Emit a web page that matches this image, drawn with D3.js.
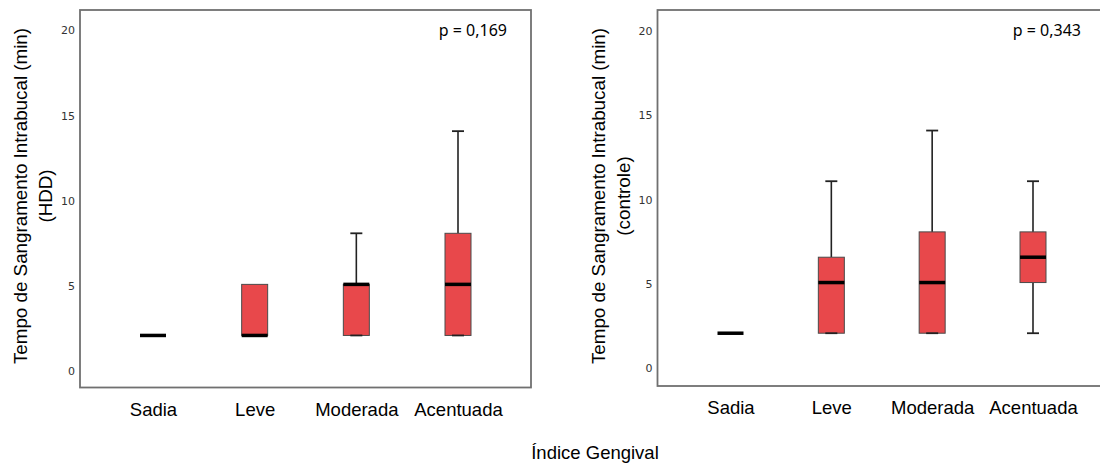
<!DOCTYPE html>
<html>
<head>
<meta charset="utf-8">
<script src="https://cdn.jsdelivr.net/npm/d3@7"></script>
<style>
  body { margin: 0; background: #fff; }
  svg { display: block; }
</style>
</head>
<body>
<div id="view"></div>
<script>
// categorias e valores (boxplots)
const categories = ["Sadia", "Leve", "Moderada", "Acentuada"];
const yTicks = [0, 5, 10, 15, 20];

// HDD
const hddMin    = [2, 2, 2, 2];
const hddQ1     = [2, 2, 2, 2];
const hddMedian = [2, 2, 5, 5];
const hddQ3     = [2, 5, 5, 8];
const hddMax    = [2, 5, 8, 14];

// controle
const ctrlMin    = [2, 2, 2, 2];
const ctrlQ1     = [2, 2, 2, 5];
const ctrlMedian = [2, 5, 5, 6.5];
const ctrlQ3     = [2, 6.5, 8, 8];
const ctrlMax    = [2, 11, 14, 11];

const pValues = ["p = 0,169", "p = 0,343"];
const yTitles = [
  ["Tempo de Sangramento Intrabucal (min)", "(HDD)"],
  ["Tempo de Sangramento Intrabucal (min)", "(controle)"]
];
const xTitle = "Índice Gengival";

const W = 1100, H = 465;
const svg = d3.select("#view").append("svg")
  .attr("width", W)
  .attr("height", H);

const panels = [
  { left: 80, right: 531, top: 10, bottom: 387.5, y0: 369.5, y20: 29,
    titleX: 20, pX: 507, data: [hddMin, hddQ1, hddMedian, hddQ3, hddMax] },
  { left: 657.5, right: 1106, top: 10, bottom: 386, y0: 367, y20: 29.2,
    titleX: 598, pX: 1081, data: [ctrlMin, ctrlQ1, ctrlMedian, ctrlQ3, ctrlMax] }
];

const boxW = 26, capW = 12;
const red = "#e8484b";

panels.forEach((p, i) => {
  const g = svg.append("g");

  const x = d3.scalePoint()
    .domain(categories)
    .range([p.left + 73, p.right - 73]);

  const y = d3.scaleLinear()
    .domain([0, 20])
    .range([p.y0, p.y20]);

  // moldura
  g.append("rect")
    .attr("x", p.left)
    .attr("y", p.top)
    .attr("width", p.right - p.left)
    .attr("height", p.bottom - p.top)
    .attr("fill", "none")
    .attr("stroke", "#707070")
    .attr("stroke-width", 1.8);

  // eixo y
  const yAxis = d3.axisLeft(y).tickValues(yTicks).tickSize(0).tickPadding(5);
  const gy = g.append("g")
    .attr("transform", `translate(${p.left}, 0)`)
    .call(yAxis);
  gy.select(".domain").remove();
  gy.selectAll("text")
    .attr("dy", "0.45em")
    .style("font-family", "'DejaVu Sans', sans-serif")
    .style("font-size", "11px")
    .style("fill", "#333");

  // eixo x
  const xAxis = d3.axisBottom(x).tickSize(0).tickPadding(15);
  const gx = g.append("g")
    .attr("transform", `translate(0, ${p.bottom})`)
    .call(xAxis);
  gx.select(".domain").remove();
  gx.selectAll("text")
    .style("font-family", "'Liberation Sans', Arial, sans-serif")
    .style("font-size", "18.5px")
    .style("fill", "#000");

  const [mins, q1s, meds, q3s, maxs] = p.data;
  const rows = categories.map((c, k) => ({
    cat: c, min: mins[k], q1: q1s[k], med: meds[k], q3: q3s[k], max: maxs[k]
  }));

  const box = g.selectAll(".box").data(rows).enter()
    .append("g").attr("class", "box");

  // bigodes
  box.append("line")
    .attr("x1", d => x(d.cat)).attr("x2", d => x(d.cat))
    .attr("y1", d => y(d.q3)).attr("y2", d => y(d.max))
    .attr("stroke", "#222").attr("stroke-width", 1.6);
  box.append("line")
    .attr("x1", d => x(d.cat)).attr("x2", d => x(d.cat))
    .attr("y1", d => y(d.q1)).attr("y2", d => y(d.min))
    .attr("stroke", "#222").attr("stroke-width", 1.6);

  // caixas
  box.filter(d => d.q3 > d.q1).append("rect")
    .attr("x", d => x(d.cat) - boxW / 2)
    .attr("y", d => y(d.q3))
    .attr("width", boxW)
    .attr("height", d => y(d.q1) - y(d.q3))
    .attr("fill", red)
    .attr("stroke", "#4a4a4a")
    .attr("stroke-width", 1);

  // limites dos bigodes
  box.filter(d => d.max > d.q3).append("line")
    .attr("x1", d => x(d.cat) - capW / 2).attr("x2", d => x(d.cat) + capW / 2)
    .attr("y1", d => y(d.max)).attr("y2", d => y(d.max))
    .attr("stroke", "#222").attr("stroke-width", 1.8);
  box.append("line")
    .attr("x1", d => x(d.cat) - capW / 2).attr("x2", d => x(d.cat) + capW / 2)
    .attr("y1", d => y(d.min)).attr("y2", d => y(d.min))
    .attr("stroke", "#222").attr("stroke-width", 1.8);

  // mediana
  box.append("line")
    .attr("x1", d => x(d.cat) - boxW / 2).attr("x2", d => x(d.cat) + boxW / 2)
    .attr("y1", d => y(d.med)).attr("y2", d => y(d.med))
    .attr("stroke", "#000").attr("stroke-width", 3.5);

  // valor p
  g.append("text")
    .attr("x", p.pX)
    .attr("y", 36)
    .attr("text-anchor", "end")
    .style("font-family", "'Noto Sans', sans-serif")
    .style("font-size", "16px")
    .text(pValues[i]);

  // titulo y
  const t = g.append("text")
    .attr("transform", `translate(${p.titleX}, 196) rotate(-90)`)
    .attr("text-anchor", "middle")
    .style("font-family", "'Liberation Sans', Arial, sans-serif")
    .style("font-size", "18.8px")
    .style("fill", "#000");
  t.append("tspan").attr("x", 0).attr("dy", "0.35em").text(yTitles[i][0]);
  t.append("tspan").attr("x", 0).attr("dy", 25.5).text(yTitles[i][1]);
});

svg.append("text")
  .attr("x", 595)
  .attr("y", 459)
  .attr("text-anchor", "middle")
  .style("font-family", "'Liberation Sans', Arial, sans-serif")
  .style("font-size", "18.5px")
  .text(xTitle);
</script>
</body>
</html>
